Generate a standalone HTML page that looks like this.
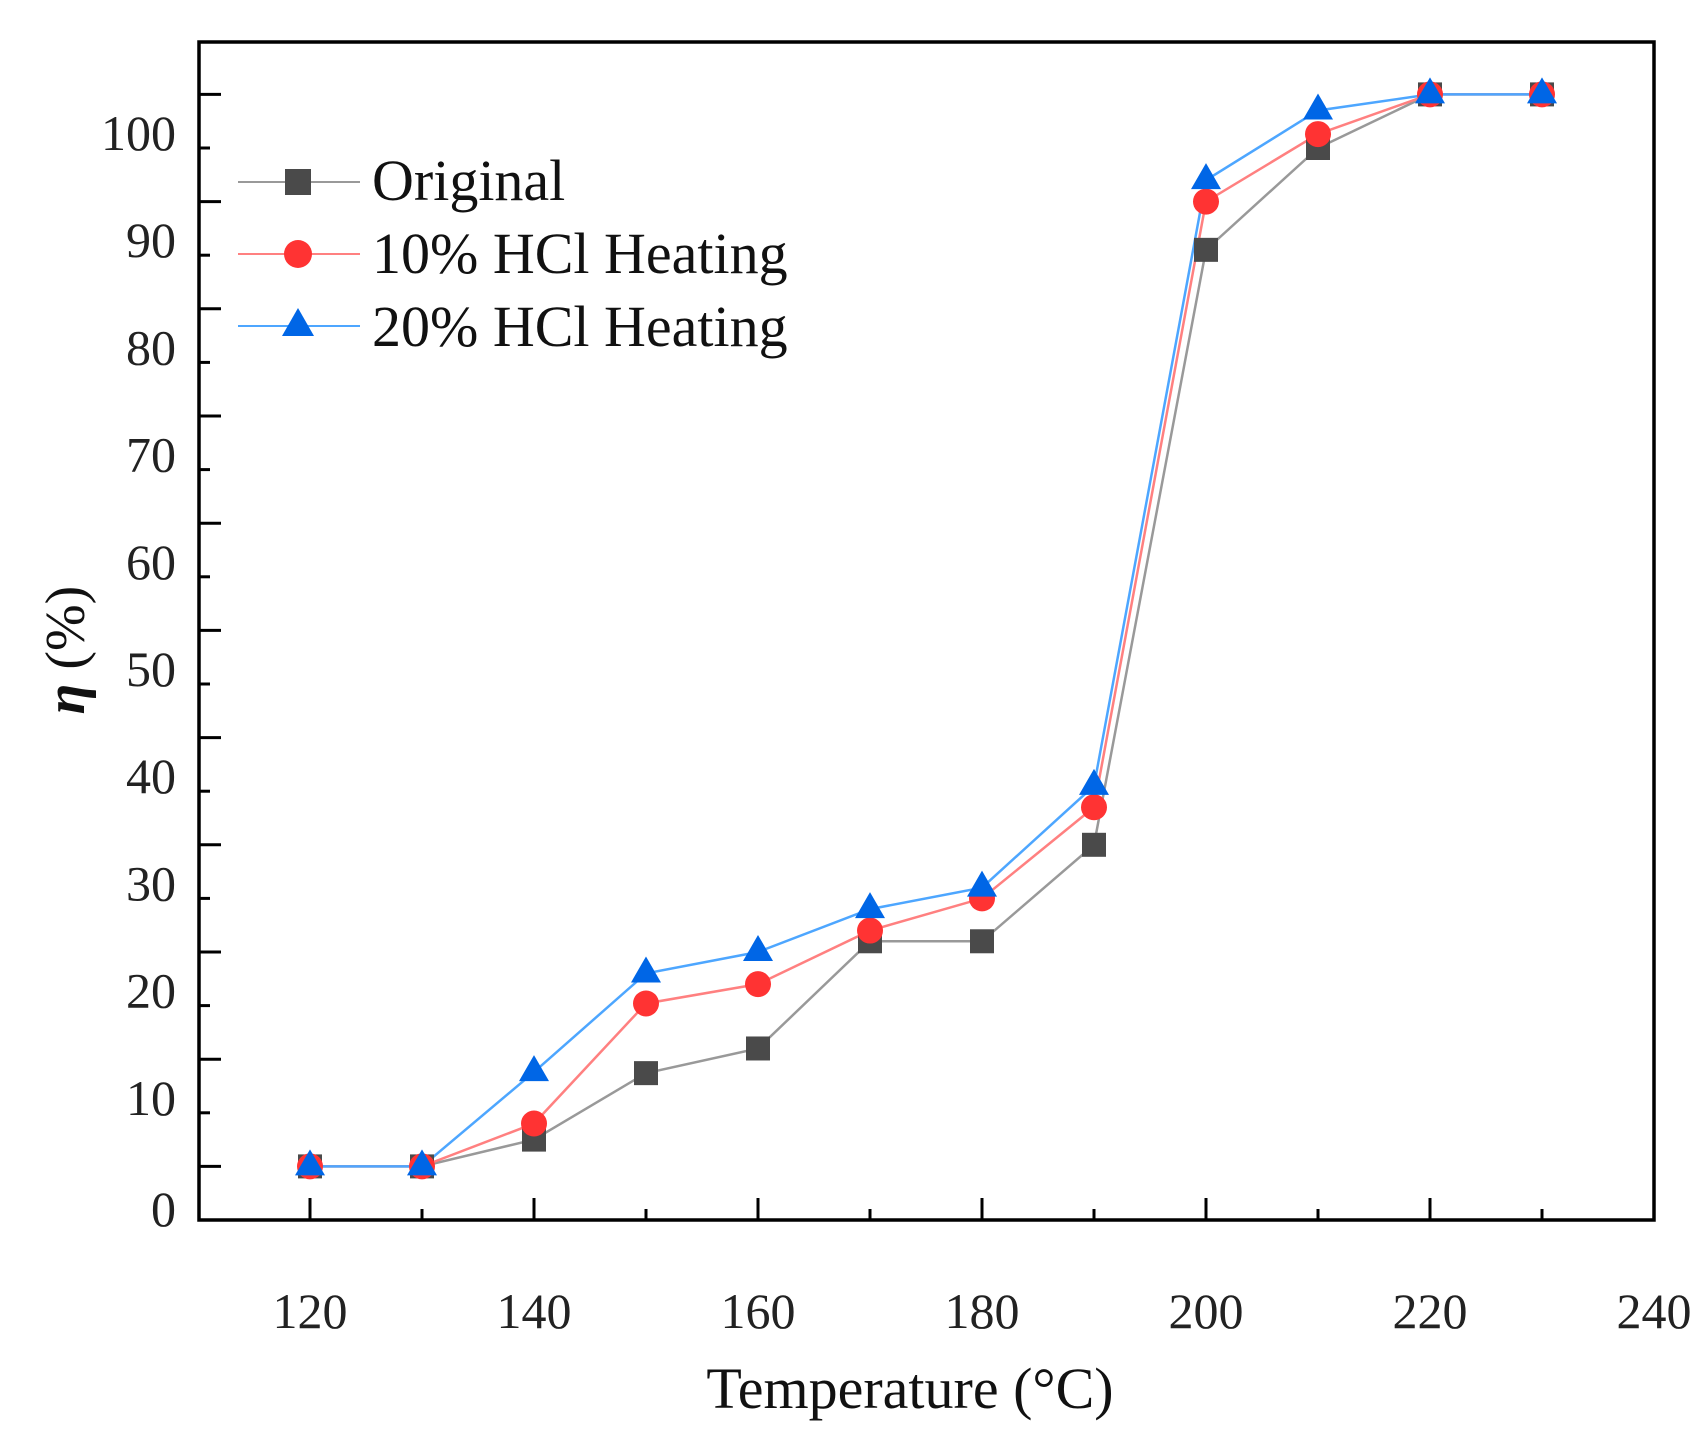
<!DOCTYPE html>
<html><head><meta charset="utf-8"><style>body{margin:0;background:#fff}svg{display:block}</style></head>
<body>
<svg width="1706" height="1438" viewBox="0 0 1706 1438" xmlns="http://www.w3.org/2000/svg" font-family="Liberation Serif, serif">
<rect width="1706" height="1438" fill="#fff"/>
<g id="ticks" stroke="#000" stroke-width="3"></g>
<g id="series"></g>
<rect x="199" y="42" width="1455" height="1178" fill="none" stroke="#000" stroke-width="3.5"/>
<g font-size="50" fill="#222" id="labels"></g>
<text x="910" y="1408" font-size="58" text-anchor="middle" fill="#111">Temperature (°C)</text>
<text transform="translate(84,650) rotate(-90)" font-size="56" text-anchor="middle" fill="#111"><tspan font-style="italic" font-weight="bold">η</tspan> (%)</text>
<g stroke-width="2">
<line x1="238" y1="182" x2="360" y2="182" stroke="#999"/>
<rect x="285" y="169" width="26" height="26" fill="#4a4a4a"/>
<line x1="238" y1="254" x2="360" y2="254" stroke="#ff8080"/>
<circle cx="298" cy="254" r="14" fill="#ff3333"/>
<line x1="238" y1="326" x2="360" y2="326" stroke="#4da6ff"/>
<polygon points="298,308 282,336 314,336" fill="#0066e6"/>
</g>
<g font-size="58" fill="#111">
<text x="372" y="200">Original</text>
<text x="372" y="273">10% HCl Heating</text>
<text x="372" y="346">20% HCl Heating</text>
</g>
<script>
const X=v=>310+(v-120)*11.2, Y=v=>1220-v*10.72, ns="http://www.w3.org/2000/svg";
function el(p,t,a,txt){const e=document.createElementNS(ns,t);for(const k in a)e.setAttribute(k,a[k]);if(txt)e.textContent=txt;p.appendChild(e);return e;}
const tk=document.getElementById('ticks'),lb=document.getElementById('labels'),sr=document.getElementById('series');
for(let v=120;v<=240;v+=10){const big=v%20==0;el(tk,'line',{x1:X(v),x2:X(v),y1:1220,y2:1220-(big?22:11)});if(big)el(lb,'text',{x:X(v),y:1328,'text-anchor':'middle'},String(v));}
for(let v=0;v<=105;v+=5){const big=v%10==5;el(tk,'line',{x1:199,x2:199+(big?22:11),y1:Y(v),y2:Y(v)});if(v%10==0)el(lb,'text',{x:176,y:Y(v)+(v==0?6:2),'text-anchor':'end'},String(v));}
const xs=[120,130,140,150,160,170,180,190,200,210,220,230];
const d=[[5,5,7.5,13.7,16,26,26,35,90.5,100,105,105],[5,5,9,20.2,22,27,30,38.5,95,101.3,105,105],[5,5,13.8,23,25,29,31,40.5,97,103.5,105,105]];
const lc=['#999','#ff8080','#4da6ff'];
d.forEach((s,i)=>el(sr,'polyline',{points:s.map((v,j)=>X(xs[j])+','+Y(v)).join(' '),fill:'none',stroke:lc[i],'stroke-width':2.5}));
d[0].forEach((v,j)=>el(sr,'rect',{x:X(xs[j])-12,y:Y(v)-12,width:24,height:24,fill:'#4a4a4a'}));
d[1].forEach((v,j)=>el(sr,'circle',{cx:X(xs[j]),cy:Y(v),r:13,fill:'#ff3333'}));
d[2].forEach((v,j)=>{const x=X(xs[j]),y=Y(v);el(sr,'polygon',{points:`${x},${y-17} ${x-15},${y+9} ${x+15},${y+9}`,fill:'#0066e6'});});
</script>
</svg>
</body></html>
